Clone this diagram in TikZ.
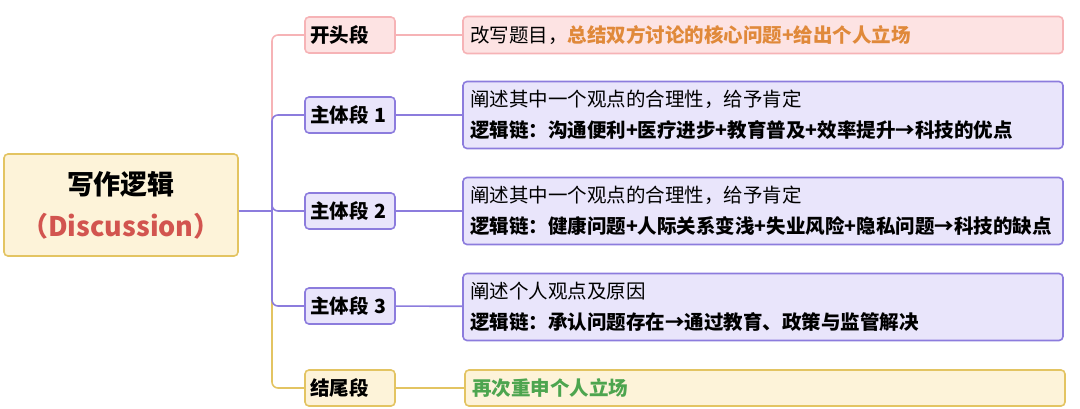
\documentclass[tikz,border=0pt]{standalone}
\usepackage{fontspec}
\setmainfont{Noto Sans CJK SC}
\definecolor{pinkfill}{HTML}{FDE3E3}
\definecolor{pinkline}{HTML}{F6B3B6}
\definecolor{purpfill}{HTML}{E9E5FB}
\definecolor{purpline}{HTML}{8C7CDD}
\definecolor{goldfill}{HTML}{FDF3D9}
\definecolor{goldline}{HTML}{E3C462}
\definecolor{rootred}{HTML}{D2544F}
\definecolor{hiorange}{HTML}{E0893A}
\definecolor{higreen}{HTML}{4DA54F}
\tikzset{
  box/.style = {draw, rounded corners=4pt, line width=1.6pt, inner sep=0pt},
  branch/.style = {box, minimum width=90pt, minimum height=36pt, text width=80pt, align=left,
    font=\fontsize{19.5}{22}\selectfont\bfseries},
  leaf/.style = {box, minimum width=600pt, text width=586pt, align=left,
    font=\fontsize{19.5}{31}\selectfont},
  link/.style = {line width=1.6pt, rounded corners=6pt}
}
\begin{document}
\begin{tikzpicture}[x=1pt, y=-1pt]
    \useasboundingbox (0,0) rectangle (1080,408);
    % root
    \node [box, draw=goldline, fill=goldfill, minimum width=234pt, minimum height=102pt,
      align=center, font=\fontsize{27}{42}\selectfont\bfseries] (root) at (121,205)
      {写作逻辑\\\textcolor{rootred}{（Discussion）}};
    \coordinate (fork) at (272,211);
    % branches
    \node [branch, draw=pinkline, fill=pinkfill] (b0) at (350,35) {开头段};
    \node [branch, draw=purpline, fill=purpfill] (b1) at (350,115) {主体段 1};
    \node [branch, draw=purpline, fill=purpfill] (b2) at (350,211) {主体段 2};
    \node [branch, draw=purpline, fill=purpfill] (b3) at (350,306) {主体段 3};
    \node [branch, draw=goldline, fill=goldfill] (b4) at (350,388) {结尾段};
    % leaves
    \node [leaf, draw=pinkline, fill=pinkfill, minimum height=37pt] (l0) at (763,35)
      {改写题目，\textcolor{hiorange}{\bfseries 总结双方讨论的核心问题+给出个人立场}};
    \node [leaf, draw=purpline, fill=purpfill, minimum height=67pt] (l1) at (763,115)
      {阐述其中一个观点的合理性，给予肯定\\\bfseries 逻辑链：沟通便利+医疗进步+教育普及+效率提升→科技的优点};
    \node [leaf, draw=purpline, fill=purpfill, minimum height=67pt] (l2) at (763,211)
      {阐述其中一个观点的合理性，给予肯定\\\bfseries 逻辑链：健康问题+人际关系变浅+失业风险+隐私问题→科技的缺点};
    \node [leaf, draw=purpline, fill=purpfill, minimum height=67pt] (l3) at (763,307)
      {阐述个人观点及原因\\\bfseries 逻辑链：承认问题存在→通过教育、政策与监管解决};
    \node [leaf, draw=goldline, fill=goldfill, minimum height=36pt] (l4) at (765,388)
      {\textcolor{higreen}{\bfseries 再次重申个人立场}};
    % connectors
    \draw [link, pinkline] (fork) |- (b0.west);
    \draw [link, goldline] (fork) |- (b4.west);
    \draw [link, purpline] (root.east |- fork) -- (fork);
    \foreach \b in {b1,b2,b3} {
      \draw [link, purpline] (fork) |- (\b.west);
    }
    \draw [link, pinkline] (b0) -- (l0);
    \draw [link, purpline] (b1) -- (l1);
    \draw [link, purpline] (b2) -- (l2);
    \draw [link, purpline] (b3) -- (l3);
    \draw [link, goldline] (b4) -- (l4);
\end{tikzpicture}
\end{document}
